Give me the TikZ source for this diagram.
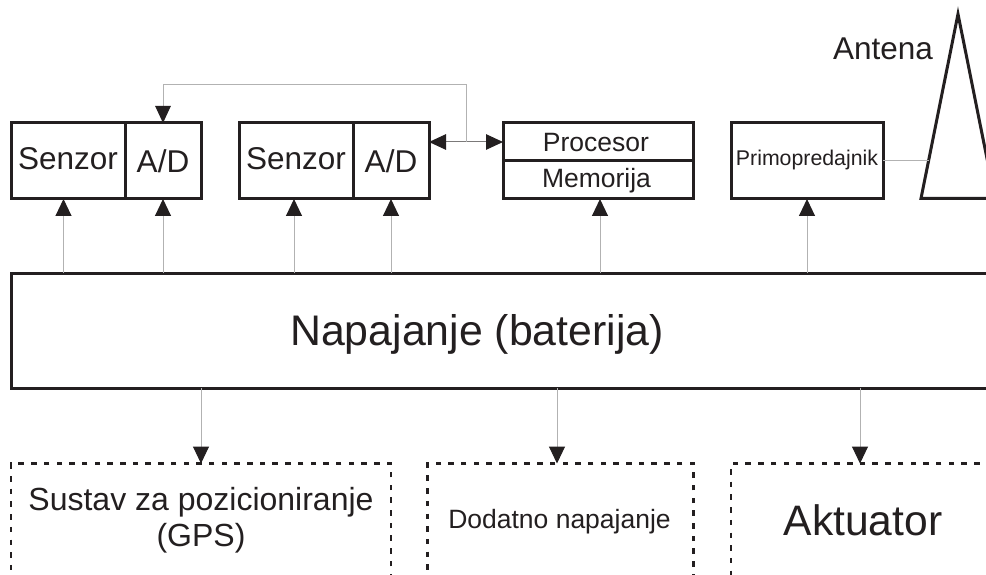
\documentclass[tikz,border=0pt]{standalone}
\usepackage{fontspec}
\setmainfont{Liberation Sans}
\usetikzlibrary{arrows.meta}
\definecolor{ink}{RGB}{35,31,32}
\definecolor{wire}{RGB}{178,178,178}
\tikzset{
  x=1pt,y=-1pt,
  every node/.style={text=ink,inner sep=0pt,outer sep=0pt},
  fbox/.style={draw=ink,line width=3pt,rectangle,anchor=north west},
  dbox/.style={draw=ink,line width=2.4pt,dash pattern=on 5.5pt off 7.2pt,rectangle,anchor=north west},
  wirearrow/.style={draw=wire,line width=1pt,-{Triangle[length=17pt,width=16pt,color=ink]}},
  plainwire/.style={draw=wire,line width=1pt},
  fs/.style={font=\fontsize{#1}{36}\selectfont},
  bl/.style={text height=2*#1 pt,text depth=0pt},
}
\begin{document}
\begin{tikzpicture}
\useasboundingbox (0,0) rectangle (986,575);
\clip (0,0) rectangle (986,575);
\fill[white] (0,0) rectangle (986,575);
% sensor groups
\node[fbox,fs=31.5,bl=8.3,minimum width=114pt,minimum height=76pt] (s1) at (11,123) {Senzor};
\node[fbox,fs=31.5,bl=12,minimum width=76pt,minimum height=76pt] (a1) at (125,123) {A/D};
\node[fbox,fs=31.5,bl=8.3,minimum width=114pt,minimum height=76pt] (s2) at (239,123) {Senzor};
\node[fbox,fs=31.5,bl=12,minimum width=76pt,minimum height=76pt] (a2) at (353,123) {A/D};
% processor
\node[fbox,minimum width=190pt,minimum height=38pt] (proc) at (503,123) {};
\node[fbox,minimum width=190pt,minimum height=38pt] (mem) at (503,161) {};
\node[fs=26.5,anchor=base] (proclabel) at (596,152) {Procesor};
\node[fs=26.5,anchor=base] (memlabel) at (596.5,188) {Memorija};
% transceiver
\node[fbox,fs=21.3,bl=5,minimum width=152pt,minimum height=76pt] (prim) at (731,123) {Primopredajnik};
% antenna
\coordinate (antApex) at (958,14);
\coordinate (antL) at (921,198.5);
\coordinate (antR) at (995,198.5);
\coordinate (antFeed) at (928.5,161);
\draw[ink,line width=3pt,line join=miter,miter limit=20] (antL) -- (antApex) -- (antR) -- cycle;
\node[fs=31.5,anchor=base] (antlabel) at (883,60) {Antena};
% supply
\node[fbox,minimum width=1010pt,minimum height=115pt] (nap) at (11,273) {};
\node[fs=42.8,anchor=base] (naplabel) at (477,345) {Napajanje (baterija)};
% dashed blocks
\node[dbox,minimum width=380pt,minimum height=180pt] (gps) at (11,463.5) {};
\node[dbox,minimum width=266pt,minimum height=180pt] (dod) at (427.5,463.5) {};
\node[dbox,minimum width=320pt,minimum height=180pt] (akt) at (731,463.5) {};
\node[fs=32,align=center,anchor=north] (gpslabel) at (201,487) {Sustav za pozicioniranje\\(GPS)};
\node[fs=26.5,anchor=base] (dodlabel) at (559.5,528) {Dodatno napajanje};
\node[fs=42.6,anchor=base] (aktlabel) at (863,535) {Aktuator};
% connectors up
\draw[wirearrow] ([xshift=-4.5pt]s1.south |- nap.north) -- ([xshift=-4.5pt]s1.south);
\draw[wirearrow] (a1.south |- nap.north) -- (a1.south);
\draw[wirearrow] ([xshift=-2pt]s2.south |- nap.north) -- ([xshift=-2pt]s2.south);
\draw[wirearrow] (a2.south |- nap.north) -- (a2.south);
\draw[wirearrow] ([xshift=2pt]mem.south |- nap.north) -- ([xshift=2pt]mem.south);
\draw[wirearrow] (prim.south |- nap.north) -- (prim.south);
% connectors down
\draw[wirearrow] (gps.north |- nap.south) -- (gps.north);
\draw[wirearrow] ([xshift=-3.5pt]dod.north |- nap.south) -- ([xshift=-3.5pt]dod.north);
\draw[wirearrow] ([xshift=-31pt]akt.north |- nap.south) -- ([xshift=-31pt]akt.north);
% bus
\coordinate (bus) at (466,142);
\draw[draw=ink!60,line width=1pt,{Triangle[length=17pt,width=15.5pt,color=ink]}-{Triangle[length=17pt,width=15.5pt,color=ink]}] (a2.east |- bus) -- (proc.west |- bus);
\draw[plainwire,-{Triangle[length=17pt,width=15.5pt,color=ink]}] (bus) -- (466,85) -- (163,85) -- (a1.north);
% antenna feed
\draw[plainwire] (prim.east |- antFeed) -- (antFeed);
\end{tikzpicture}
\end{document}
